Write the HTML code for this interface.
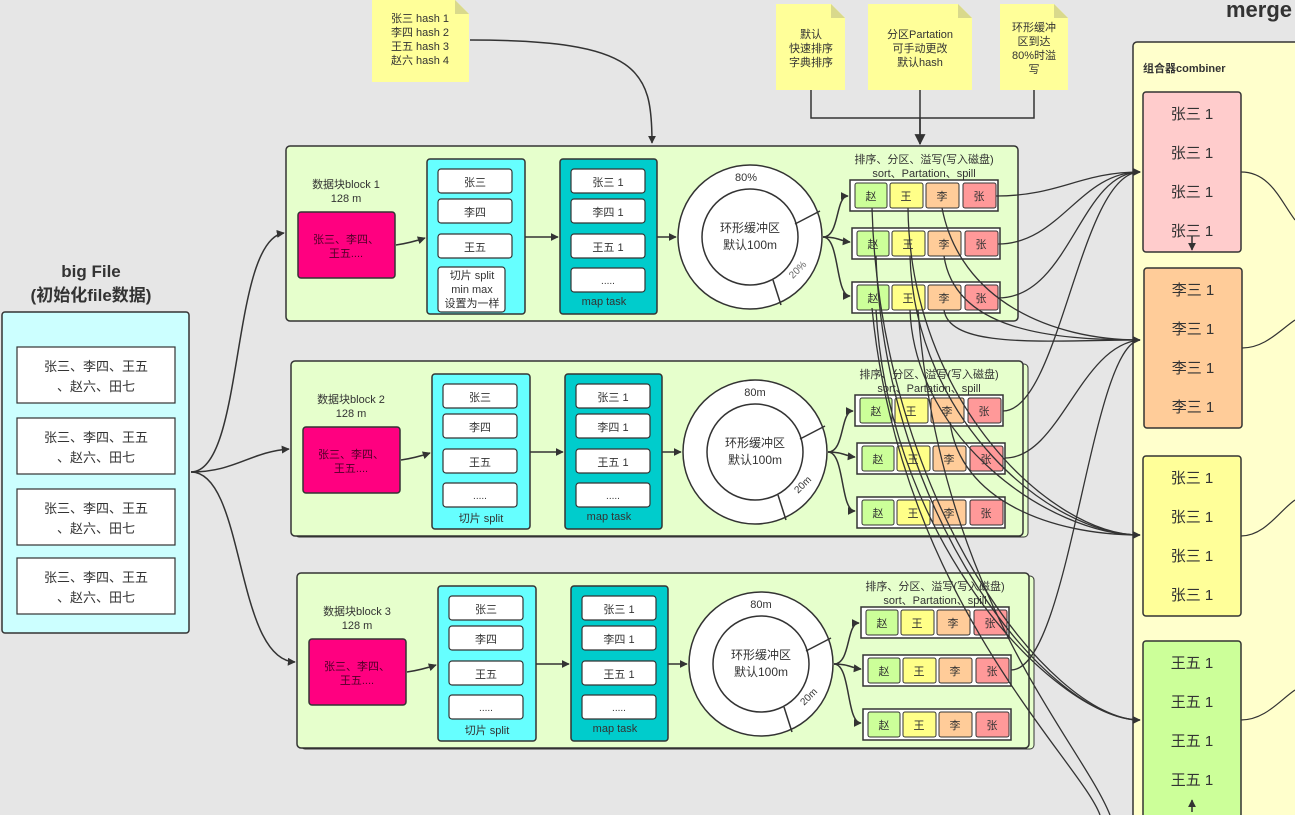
<!DOCTYPE html>
<html><head><meta charset="utf-8"><style>
html,body{margin:0;padding:0;background:#e6e6e6;}
svg{display:block;font-family:"Liberation Sans","Noto Sans CJK SC",sans-serif;}
text{fill:#333;}
</style></head><body>
<svg width="1295" height="815" viewBox="0 0 1295 815" xmlns="http://www.w3.org/2000/svg">
<defs>
<marker id="a" viewBox="0 0 10 10" refX="9" refY="5" markerWidth="8" markerHeight="8" orient="auto" markerUnits="userSpaceOnUse"><path d="M0,0L10,5L0,10z" fill="#333"/></marker>
<marker id="b" viewBox="0 0 10 10" refX="9" refY="5" markerWidth="11" markerHeight="11" orient="auto" markerUnits="userSpaceOnUse"><path d="M0,0L10,5L0,10z" fill="#333"/></marker>
<g id="blk">
  <rect x="286" y="146" width="732" height="175" rx="4" fill="#e6ffcc" stroke="#333" stroke-width="1.5"/>
  <rect x="298" y="212" width="97" height="66" rx="3" fill="#ff0080" stroke="#333" stroke-width="1.5"/>
  <text x="346" y="202" font-size="11" text-anchor="middle">128 m</text>
  <text x="346" y="243" font-size="11" text-anchor="middle" style="fill:#4d0026">张三、李四、</text>
  <text x="346" y="257" font-size="11" text-anchor="middle" style="fill:#4d0026">王五....</text>
  <path d="M396,245 Q410,243 425,238" fill="none" stroke="#333" stroke-width="1.5" marker-end="url(#a)"/>
  <rect x="427" y="159" width="98" height="155" rx="3" fill="#66ffff" stroke="#333" stroke-width="1.5"/>
  <rect x="438" y="169" width="74" height="24" rx="3" fill="#fff" stroke="#333" stroke-width="1.2"/>
  <text x="475" y="186" font-size="11" text-anchor="middle">张三</text>
  <rect x="438" y="199" width="74" height="24" rx="3" fill="#fff" stroke="#333" stroke-width="1.2"/>
  <text x="475" y="216" font-size="11" text-anchor="middle">李四</text>
  <rect x="438" y="234" width="74" height="24" rx="3" fill="#fff" stroke="#333" stroke-width="1.2"/>
  <text x="475" y="251" font-size="11" text-anchor="middle">王五</text>
  <path d="M525,237 L558,237" stroke="#333" stroke-width="1.5" marker-end="url(#a)"/>
  <rect x="560" y="159" width="97" height="155" rx="3" fill="#00cccc" stroke="#333" stroke-width="1.5"/>
  <rect x="571" y="169" width="74" height="24" rx="3" fill="#fff" stroke="#333" stroke-width="1.2"/>
  <text x="608" y="186" font-size="11" text-anchor="middle">张三 1</text>
  <rect x="571" y="199" width="74" height="24" rx="3" fill="#fff" stroke="#333" stroke-width="1.2"/>
  <text x="608" y="216" font-size="11" text-anchor="middle">李四 1</text>
  <rect x="571" y="234" width="74" height="24" rx="3" fill="#fff" stroke="#333" stroke-width="1.2"/>
  <text x="608" y="251" font-size="11" text-anchor="middle">王五 1</text>
  <rect x="571" y="268" width="74" height="24" rx="3" fill="#fff" stroke="#333" stroke-width="1.2"/>
  <text x="608" y="284" font-size="10" text-anchor="middle">.....</text>
  <text x="604" y="305" font-size="11" text-anchor="middle">map task</text>
  <path d="M657,237 L676,237" stroke="#333" stroke-width="1.5" marker-end="url(#a)"/>
  <circle cx="750" cy="237" r="72" fill="#fff" stroke="#333" stroke-width="1.5"/>
  <circle cx="750" cy="237" r="48" fill="#fff" stroke="#333" stroke-width="1.5"/>
  <line x1="795" y1="224" x2="820" y2="211" stroke="#333" stroke-width="1.5"/>
  <line x1="773" y1="280" x2="781" y2="305" stroke="#333" stroke-width="1.5"/>
  <text x="750" y="232" font-size="12" text-anchor="middle">环形缓冲区</text>
  <text x="750" y="249" font-size="12" text-anchor="middle">默认100m</text>
  <text x="924" y="163" font-size="11" text-anchor="middle">排序、分区、溢写(写入磁盘)</text>
  <text x="924" y="177" font-size="11" text-anchor="middle">sort、Partation、spill</text>
  <path d="M823,237 C840,237 835,196 848,196" fill="none" stroke="#333" stroke-width="1.5" marker-end="url(#a)"/>
  <path d="M823,237 C838,237 840,241 850,242" fill="none" stroke="#333" stroke-width="1.5" marker-end="url(#a)"/>
  <path d="M823,237 C840,237 835,296 850,296" fill="none" stroke="#333" stroke-width="1.5" marker-end="url(#a)"/>
  <g id="row">
    <rect x="850" y="180" width="148" height="31" fill="#fff" stroke="#333" stroke-width="1.5"/>
    <rect x="855" y="183" width="32" height="25" rx="2" fill="#ccff99" stroke="#333"/>
    <rect x="890" y="183" width="33" height="25" rx="2" fill="#ffff88" stroke="#333"/>
    <rect x="926" y="183" width="33" height="25" rx="2" fill="#ffcc99" stroke="#333"/>
    <rect x="963" y="183" width="33" height="25" rx="2" fill="#ff9999" stroke="#333"/>
    <text x="871" y="200" font-size="11" text-anchor="middle">赵</text>
    <text x="906" y="200" font-size="11" text-anchor="middle">王</text>
    <text x="942" y="200" font-size="11" text-anchor="middle">李</text>
    <text x="979" y="200" font-size="11" text-anchor="middle">张</text>
  </g>
  <use href="#row" x="2" y="48"/>
  <use href="#row" x="2" y="102"/>
</g>
</defs>

<!-- big file -->
<text x="91" y="277" font-size="17" font-weight="bold" text-anchor="middle">big File</text>
<text x="91" y="301" font-size="17" font-weight="bold" text-anchor="middle">(初始化file数据)</text>
<rect x="2" y="312" width="187" height="321" rx="3" fill="#ccffff" stroke="#333" stroke-width="1.5"/>
<g font-size="13" text-anchor="middle">
<rect x="17" y="347" width="158" height="56" fill="#fff" stroke="#333" stroke-width="1.2"/>
<text x="96" y="371">张三、李四、王五</text><text x="96" y="391">、赵六、田七</text>
<rect x="17" y="418" width="158" height="56" fill="#fff" stroke="#333" stroke-width="1.2"/>
<text x="96" y="442">张三、李四、王五</text><text x="96" y="462">、赵六、田七</text>
<rect x="17" y="489" width="158" height="56" fill="#fff" stroke="#333" stroke-width="1.2"/>
<text x="96" y="513">张三、李四、王五</text><text x="96" y="533">、赵六、田七</text>
<rect x="17" y="558" width="158" height="56" fill="#fff" stroke="#333" stroke-width="1.2"/>
<text x="96" y="582">张三、李四、王五</text><text x="96" y="602">、赵六、田七</text>
</g>
<path d="M191,472 C245,472 230,240 284,233" fill="none" stroke="#333" stroke-width="1.5" marker-end="url(#a)"/>
<path d="M191,472 C235,472 250,452 289,449" fill="none" stroke="#333" stroke-width="1.5" marker-end="url(#a)"/>
<path d="M191,472 C245,472 235,660 295,662" fill="none" stroke="#333" stroke-width="1.5" marker-end="url(#a)"/>

<!-- blocks -->
<use href="#blk"/>
<text x="346" y="188" font-size="11" text-anchor="middle">数据块block 1</text>
<rect x="438" y="267" width="67" height="45" rx="3" fill="#fff" stroke="#333" stroke-width="1.2"/>
<text x="472" y="279" font-size="11" text-anchor="middle">切片 split</text>
<text x="472" y="293" font-size="11" text-anchor="middle">min max</text>
<text x="472" y="307" font-size="11" text-anchor="middle">设置为一样</text>
<text x="746" y="181" font-size="11" text-anchor="middle">80%</text>
<text x="800" y="272" font-size="10" text-anchor="middle" transform="rotate(-45 800 272)" style="fill:#666">20%</text>

<rect x="295" y="364" width="733" height="173" rx="4" fill="#e6ffcc" stroke="#333" stroke-width="1"/>
<g transform="translate(5,215)">
<use href="#blk"/>
<text x="346" y="188" font-size="11" text-anchor="middle">数据块block 2</text>
<rect x="438" y="268" width="74" height="24" rx="3" fill="#fff" stroke="#333" stroke-width="1.2"/>
<text x="475" y="284" font-size="10" text-anchor="middle">.....</text>
<text x="476" y="307" font-size="11" text-anchor="middle">切片 split</text>
<text x="750" y="181" font-size="11" text-anchor="middle">80m</text>
<text x="800" y="272" font-size="10" text-anchor="middle" transform="rotate(-45 800 272)" style="fill:#333">20m</text>
</g>
<rect x="301" y="576" width="733" height="173" rx="4" fill="#e6ffcc" stroke="#333" stroke-width="1"/>
<g transform="translate(11,427)">
<use href="#blk"/>
<text x="346" y="188" font-size="11" text-anchor="middle">数据块block 3</text>
<rect x="438" y="268" width="74" height="24" rx="3" fill="#fff" stroke="#333" stroke-width="1.2"/>
<text x="475" y="284" font-size="10" text-anchor="middle">.....</text>
<text x="476" y="307" font-size="11" text-anchor="middle">切片 split</text>
<text x="750" y="181" font-size="11" text-anchor="middle">80m</text>
<text x="800" y="272" font-size="10" text-anchor="middle" transform="rotate(-45 800 272)" style="fill:#333">20m</text>
</g>

<!-- notes -->
<path d="M372,0 H455 L469,14 V82 H372 Z" fill="#ffff99"/><path d="M455,0 V14 H469 Z" fill="#d9d98c"/>
<g font-size="11" text-anchor="middle">
<text x="420" y="22">张三 hash 1</text><text x="420" y="36">李四 hash 2</text><text x="420" y="50">王五 hash 3</text><text x="420" y="64">赵六 hash 4</text>
</g>
<path d="M776,4 H831 L845,18 V90 H776 Z" fill="#ffff99"/><path d="M831,4 V18 H845 Z" fill="#d9d98c"/>
<path d="M868,4 H958 L972,18 V90 H868 Z" fill="#ffff99"/><path d="M958,4 V18 H972 Z" fill="#d9d98c"/>
<path d="M1000,4 H1054 L1068,18 V90 H1000 Z" fill="#ffff99"/><path d="M1054,4 V18 H1068 Z" fill="#d9d98c"/>
<g font-size="11" text-anchor="middle">
<text x="811" y="38">默认</text><text x="811" y="52">快速排序</text><text x="811" y="66">字典排序</text>
<text x="920" y="38">分区Partation</text><text x="920" y="52">可手动更改</text><text x="920" y="66">默认hash</text>
<text x="1034" y="31">环形缓冲</text><text x="1034" y="45">区到达</text><text x="1034" y="59">80%时溢</text><text x="1034" y="73">写</text>
</g>
<path d="M470,40 C640,40 652,70 652,143" fill="none" stroke="#333" stroke-width="1.5" marker-end="url(#a)"/>
<path d="M811,90 V118 H1034 V90 M920,90 V144" fill="none" stroke="#333" stroke-width="1.5"/>
<path d="M920,118 V144" stroke="#333" stroke-width="1.5" marker-end="url(#b)"/>

<!-- combiner -->
<text x="1226" y="17" font-size="22" font-weight="bold">merge</text>
<rect x="1133" y="42" width="180" height="790" rx="4" fill="#ffffcc" stroke="#333" stroke-width="1.5"/>
<text x="1143" y="72" font-size="11" font-weight="bold">组合器combiner</text>
<g font-size="15" text-anchor="middle">
<rect x="1143" y="92" width="98" height="160" rx="3" fill="#ffcccc" stroke="#333" stroke-width="1.5"/>
<text x="1192" y="119">张三 1</text><text x="1192" y="158">张三 1</text><text x="1192" y="197">张三 1</text><text x="1192" y="236">张三 1</text>
<rect x="1144" y="268" width="98" height="160" rx="3" fill="#ffcc99" stroke="#333" stroke-width="1.5"/>
<text x="1193" y="295">李三 1</text><text x="1193" y="334">李三 1</text><text x="1193" y="373">李三 1</text><text x="1193" y="412">李三 1</text>
<rect x="1143" y="456" width="98" height="160" rx="3" fill="#ffff99" stroke="#333" stroke-width="1.5"/>
<text x="1192" y="483">张三 1</text><text x="1192" y="522">张三 1</text><text x="1192" y="561">张三 1</text><text x="1192" y="600">张三 1</text>
<rect x="1143" y="641" width="98" height="190" rx="3" fill="#ccff99" stroke="#333" stroke-width="1.5"/>
<text x="1192" y="668">王五 1</text><text x="1192" y="707">王五 1</text><text x="1192" y="746">王五 1</text><text x="1192" y="785">王五 1</text>
</g>
<path d="M1192,236 V250" stroke="#333" stroke-width="1.5" marker-end="url(#a)"/>
<path d="M1192,800 V812" stroke="#333" stroke-width="1.5" transform="rotate(180 1192 806)" marker-end="url(#a)"/>
<g fill="none" stroke="#333" stroke-width="1.2">
<path d="M1241,172 C1270,172 1280,200 1295,220"/>
<path d="M1242,348 C1265,348 1280,330 1295,320"/>
<path d="M1241,536 C1265,536 1280,510 1295,500"/>
<path d="M1241,720 C1265,720 1280,700 1295,690"/>
</g>

<!-- outgoing lines -->
<g fill="none" stroke="#333" stroke-width="1.3">
<path d="M996,196 C1060,196 1080,172 1140,172" marker-end="url(#a)"/>
<path d="M998,244 C1060,244 1080,172 1140,172" marker-end="url(#a)"/>
<path d="M998,298 C1070,298 1080,172 1140,172" marker-end="url(#a)"/>
<path d="M1003,411 C1060,411 1080,172 1140,172"/>
<path d="M942,208 C960,300 1050,340 1140,340" marker-end="url(#a)"/>
<path d="M944,256 C955,330 1050,340 1140,340"/>
<path d="M944,310 C950,350 1050,340 1140,340"/>
<path d="M1005,458 C1060,458 1080,345 1140,340"/>
<path d="M1011,670 C1070,670 1090,345 1140,340"/>
<path d="M908,208 C910,400 1050,535 1140,535" marker-end="url(#a)"/>
<path d="M910,256 C915,420 1050,535 1140,535"/>
<path d="M910,310 C915,440 1050,535 1140,535"/>
<path d="M950,422 C960,500 1050,535 1140,535"/>
<path d="M872,208 C880,500 1050,720 1140,720" marker-end="url(#a)"/>
<path d="M876,256 C885,520 1050,720 1140,720"/>
<path d="M876,310 C890,550 1060,720 1140,720"/>
<path d="M872,308 C900,600 1080,760 1100,815"/>
<path d="M918,310 C940,600 1080,740 1110,815"/>
</g>
</svg>
</body></html>
